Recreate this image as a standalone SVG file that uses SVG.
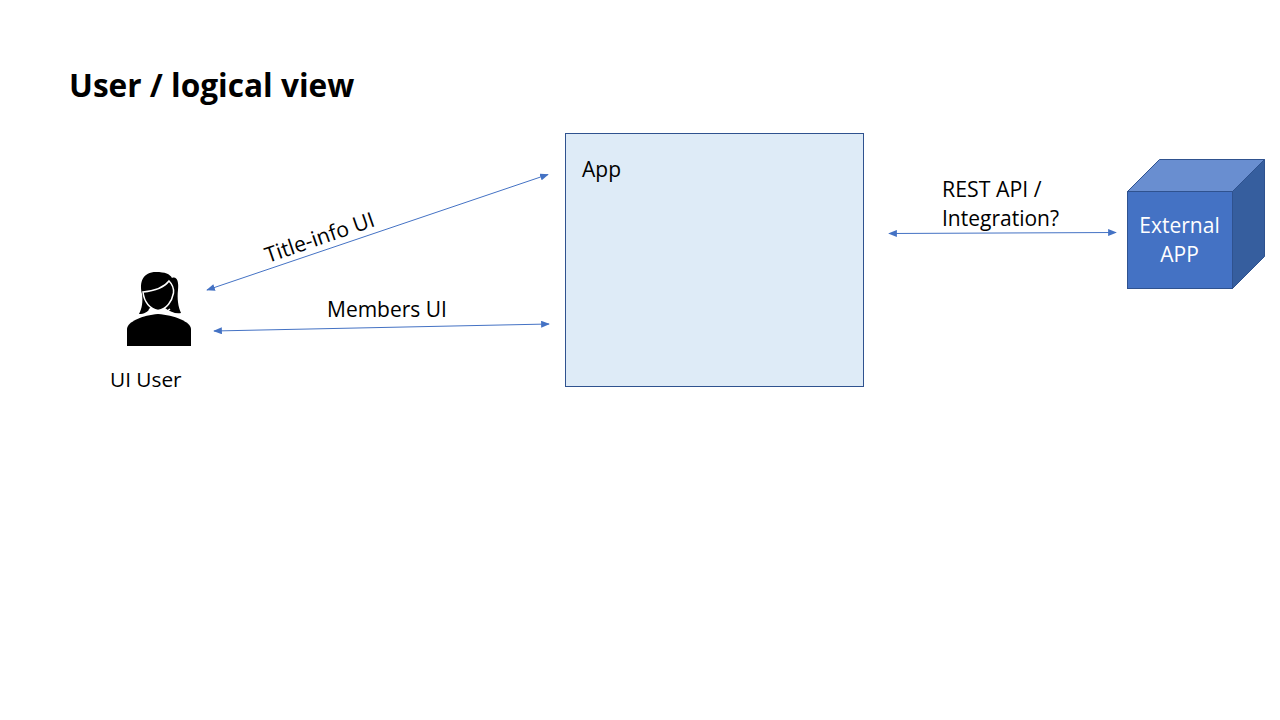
<svg xmlns="http://www.w3.org/2000/svg" width="1280" height="720" viewBox="0 0 1280 720">
<style>
text{font-family:"Open Sans","Noto Sans","Liberation Sans",sans-serif;fill:#000;font-size:21px}
.c{stroke:#4472c4;stroke-width:1;fill:none;marker-start:url(#a);marker-end:url(#a)}
.e{stroke:#2f528f;stroke-width:1}
</style>
<defs><marker id="a" viewBox="0 0 10 8" refX="9" refY="4" markerWidth="9" markerHeight="7" markerUnits="userSpaceOnUse" orient="auto-start-reverse"><path d="M0 0L10 4L0 8z" fill="#4472c4"/></marker></defs>
<rect width="1280" height="720" fill="#fff"/>
<text x="69" y="97" style="font-size:31.600px;font-weight:700">User / logical view</text>
<g id="connectors">
<path class="c" d="M207 290L548 174.500"/>
<path class="c" d="M214 331L549 324"/>
<path class="c" d="M889 233.500L1116 232.500"/>
</g>
<text x="0" y="0" transform="translate(268 263) rotate(-19)" style="font-size:21.300px">Title-info UI</text>
<text x="327" y="317">Members UI</text>
<text x="942" y="197" style="font-size:21.300px">REST API /</text>
<text x="942" y="226">Integration?</text>
<g id="app">
<rect x="565.500" y="133.500" width="298" height="253" fill="#deebf7" stroke="#2f528f"/>
<text x="582" y="177">App</text>
</g>
<g id="user">
<path d="M127 346V329C127 322 143 315 158 314C174 315 191 322 191 329V346Z" fill="#000"/>
<path d="M139 314C142 308 143 302 142 294C139 282 143 272 156 272C165 272 170 274 172 278C177 276 179 282 178 290C177 298 178 307 181 313C176 314 170 312 165 308H150C148 312 144 314 139 314Z" fill="#000"/>
<path d="M143 292C153 291 163 289 169 281C172 284 174 288 173.500 293C172 301 167 309 158 310.500C150 309 144 302 143 292Z" fill="#000" stroke="#fff" stroke-width="1.500"/>
<path d="M149 309L153 312H166L170 309" fill="none" stroke="#fff" stroke-width="1.500"/>
<text x="110" y="387" style="font-size:20.800px">UI User</text>
</g>
<g id="external">
<path class="e" d="M1127.500 191.500L1159.500 159.500H1264.500L1232.500 191.500Z" fill="#698ed0"/>
<path class="e" d="M1232.500 191.500L1264.500 159.500V256.500L1232.500 288.500Z" fill="#365e9e"/>
<rect class="e" x="1127.500" y="191.500" width="105" height="97" fill="#4472c4"/>
<text x="1179.500" y="233" text-anchor="middle" style="fill:#fff">External</text>
<text x="1179.500" y="262" text-anchor="middle" style="fill:#fff">APP</text>
</g>
</svg>
